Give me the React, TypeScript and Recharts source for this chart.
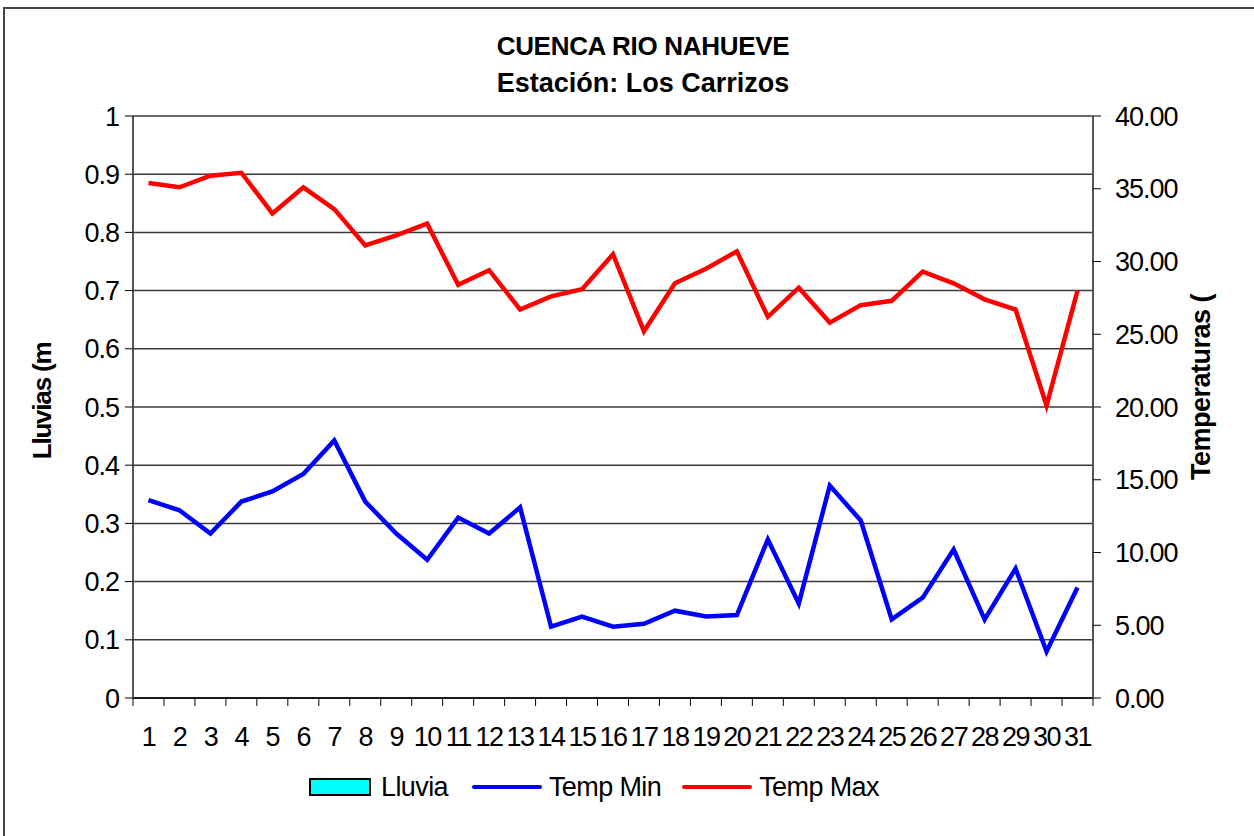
import { ComposedChart, Bar, Line, XAxis, YAxis, CartesianGrid, Legend } from "recharts";

const days = Array.from({ length: 31 }, (_, i) => String(i + 1));
const lluvia = [0, 0, 0, 0, 0, 0, 0, 0, 0, 0, 0, 0, 0, 0, 0, 0, 0, 0, 0, 0, 0, 0, 0, 0, 0, 0, 0, 0, 0, 0, 0];
const tempMin = [13.6, 12.9, 11.3, 13.5, 14.2, 15.4, 17.7, 13.5, 11.3, 9.5, 12.4, 11.3, 13.1, 4.9, 5.6, 4.9, 5.1, 6.0, 5.6, 5.7, 10.9, 6.5, 14.6, 12.2, 5.4, 6.9, 10.2, 5.4, 8.9, 3.2, 7.6];
const tempMax = [35.4, 35.1, 35.9, 36.1, 33.3, 35.1, 33.6, 31.1, 31.8, 32.6, 28.4, 29.4, 26.7, 27.6, 28.1, 30.5, 25.2, 28.5, 29.5, 30.7, 26.2, 28.2, 25.8, 27.0, 27.3, 29.3, 28.5, 27.4, 26.7, 20.1, 28.0];
const leftTicks = [0, 0.1, 0.2, 0.3, 0.4, 0.5, 0.6, 0.7, 0.8, 0.9, 1];
const rightTicks = [0, 5, 10, 15, 20, 25, 30, 35, 40];

const data = days.map((d, i) => ({ day: d, lluvia: lluvia[i], tmin: tempMin[i], tmax: tempMax[i] }));

const font = "'Liberation Sans', Arial, sans-serif";
const BAND = 960 / 31;
const tickStyle = { fontSize: 27, fill: "#000", fontFamily: font, letterSpacing: -1 };

function DayTick(props: any) {
  const { x, y, payload, index } = props;
  return (
    <g>
      <line x1={x - BAND / 2} x2={x - BAND / 2} y1={y - 8} y2={y} stroke="#000" />
      {index === 30 && <line x1={x + BAND / 2} x2={x + BAND / 2} y1={y - 8} y2={y} stroke="#000" />}
      <text x={x} y={y + 40} textAnchor="middle" fontSize={27} letterSpacing={-1.5} fontFamily={font} fill="#000">
        {payload.value}
      </text>
    </g>
  );
}

function LegendBox() {
  const txt: React.CSSProperties = { fontSize: 27, letterSpacing: -0.6, fontFamily: font, color: "#000", lineHeight: "30px" };
  return (
    <div style={{ display: "flex", alignItems: "center", width: 1254, paddingLeft: 309, boxSizing: "border-box" }}>
      <div style={{ width: 58, height: 14, background: "#00ffff", border: "2px solid #000", marginRight: 10 }} />
      <span style={{ ...txt, marginRight: 24 }}>Lluvia</span>
      <div style={{ width: 70, height: 4, background: "#0000ff", borderRadius: 2, marginRight: 7 }} />
      <span style={{ ...txt, marginRight: 21 }}>Temp Min</span>
      <div style={{ width: 70, height: 4, background: "#ff0000", borderRadius: 2, marginRight: 7 }} />
      <span style={txt}>Temp Max</span>
    </div>
  );
}

export default function App() {
  return (
    <div style={{ position: "absolute", left: 0, top: 0, width: 1254, height: 836, background: "#fff", overflow: "hidden" }}>
      <div style={{ position: "absolute", left: 3, top: 7, width: 1300, height: 900, borderLeft: "2px solid #444", borderTop: "2px solid #444" }} />
      <div style={{ position: "absolute", left: 16, top: 28, width: 1254, textAlign: "center", fontFamily: font, fontWeight: "bold", lineHeight: "37px" }}>
        <div style={{ fontSize: 26, letterSpacing: -0.3 }}>CUENCA RIO NAHUEVE</div>
        <div style={{ fontSize: 27, letterSpacing: 0 }}>Estación: Los Carrizos</div>
      </div>
      <ComposedChart width={1254} height={836} data={data} margin={{ top: 116, right: 61, bottom: 78, left: 63 }}>
        <CartesianGrid yAxisId="left" vertical={false} stroke="#3a3a3a" strokeWidth={1.5} />
        <XAxis dataKey="day" tickLine={false} axisLine={{ stroke: "#000", strokeWidth: 1.5 }} height={60} interval={0} tick={<DayTick />} />
        <YAxis
          yAxisId="left"
          domain={[0, 1]}
          ticks={leftTicks}
          interval={0}
          width={70}
          tickSize={8}
          tickMargin={6}
          tickFormatter={(v: number) => String(Number(v.toFixed(1)))}
          tick={tickStyle}
          axisLine={{ stroke: "#555", strokeWidth: 2 }}
          tickLine={{ stroke: "#000" }}
          label={{ value: "Lluvias (m", angle: -90, position: "center", dx: -56, dy: -6, style: { fontSize: 26, fontWeight: "bold", fontFamily: font, letterSpacing: -1.2, fill: "#000" } }}
        />
        <YAxis
          yAxisId="right"
          orientation="right"
          domain={[0, 40]}
          ticks={rightTicks}
          interval={0}
          width={100}
          tickSize={8}
          tickMargin={14}
          tickFormatter={(v: number) => v.toFixed(2)}
          tick={tickStyle}
          axisLine={{ stroke: "#555", strokeWidth: 2 }}
          tickLine={{ stroke: "#000" }}
          label={{ value: "Temperaturas (", angle: -90, position: "center", dx: 57, dy: -20, style: { fontSize: 27, fontWeight: "bold", fontFamily: font, letterSpacing: -0.5, fill: "#000" } }}
        />
        <Legend verticalAlign="middle" wrapperStyle={{ top: 772, left: 0 }} content={() => <LegendBox />} />
        <Bar yAxisId="left" dataKey="lluvia" name="Lluvia" fill="#00ffff" stroke="#000" isAnimationActive={false} />
        <Line yAxisId="right" dataKey="tmin" name="Temp Min" stroke="#0000ff" strokeWidth={4.5} dot={false} isAnimationActive={false} />
        <Line yAxisId="right" dataKey="tmax" name="Temp Max" stroke="#ff0000" strokeWidth={4.5} dot={false} isAnimationActive={false} />
      </ComposedChart>
    </div>
  );
}
